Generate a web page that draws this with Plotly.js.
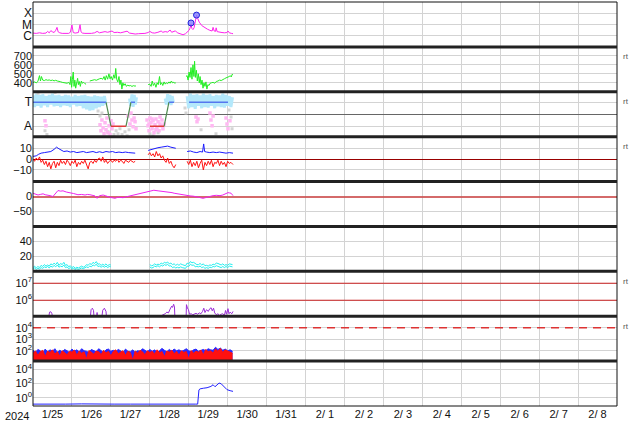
<!DOCTYPE html>
<html><head><meta charset="utf-8">
<script src="https://cdn.plot.ly/plotly-3.0.1.min.js"></script>
<style>html,body{margin:0;padding:0;background:#fff}#chart{width:634px;height:424px}</style>
</head><body><div id="chart"></div>
<script>
// time origin of the data: hours counted from 2024-01-25 00:00 UT
const T0 = Date.UTC(2024, 0, 25);
const xRange = ['2024-01-25', '2024-02-09'];

// Panel 1: X-ray flux [h, W/m2]
const xrs = [[0,1.7e-6],[2,1.6e-6],[4,1.8e-6],[6,1.6e-6],[8,1.7e-6],[9,2.4e-6],[10,1.8e-6],[11,2.8e-6],[12,2.2e-6],[13,1.9e-6],[14,3.0e-6],[14.8,5.5e-6],[15.5,2.2e-6],[16.5,1.8e-6],[18,1.6e-6],[20,1.7e-6],[22,1.6e-6],[23,2.0e-6],[23.5,4.0e-6],[24,9e-6],[24.8,1.9e-6],[26,1.7e-6],[28,1.9e-6],[28.6,5e-6],[29,9.5e-6],[29.6,2.2e-6],[30.5,1.7e-6],[32,1.6e-6],[34,1.5e-6],[36,1.6e-6],[38,1.8e-6],[39.5,2.4e-6],[41,1.8e-6],[43,1.9e-6],[44.4,2.3e-6],[46,2.0e-6],[47.5,2.3e-6],[48.7,2.6e-6],[50,1.9e-6],[52,2.0e-6],[54,1.8e-6],[56,2.1e-6],[58,2.5e-6],[59.5,1.7e-6],[61,1.5e-6],[63,1.4e-6],[65,1.5e-6],[67,1.5e-6],[69,1.6e-6],[71,1.9e-6],[72,2.4e-6],[73.5,1.8e-6],[75,1.7e-6],[77,2.0e-6],[79,2.6e-6],[80,2.0e-6],[81.5,2.3e-6],[83,2.1e-6],[84.5,3.2e-6],[85.5,2.0e-6],[87,2.5e-6],[87.8,2.7e-6],[89,1.8e-6],[91,1.4e-6],[92.5,1.2e-6],[94,1.5e-6],[95.6,2.5e-6],[96.4,3.2e-6],[97,6.0e-6],[97.4,1.1e-5],[97.9,4.5e-6],[98.6,3.5e-6],[99.3,5e-6],[100,2.0e-5],[100.8,6.8e-5],[101.5,3.5e-5],[102.5,1.6e-5],[104,8e-6],[105.5,5.5e-6],[107.5,3.8e-6],[109,3.0e-6],[110.4,2.6e-6],[111,5.5e-6],[111.7,2.6e-6],[112.5,2.4e-6],[112.9,5.0e-6],[113.5,2.3e-6],[115,2.0e-6],[116.5,1.9e-6],[118,1.8e-6],[119.5,1.9e-6],[120.2,2.6e-6],[121,1.8e-6],[122.3,1.6e-6],[123.3,1.5e-6]];
const flares = [[97.4,1.35e-5],[100.8,6.8e-5]];
const xrsTickVals = [1e-4, 1e-5, 1e-6];
const xrsTickText = ['X', 'M', 'C'];

// Panel 2: solar wind speed [h, km/s]
const sw = [[0,405],[1,410],[2,400],[3,415],[4,480],[4.6,420],[5.2,470],[6,430],[7,425],[8,435],[9,428],[10,432],[11,425],[12,430],[13,422],[14,428],[15,420],[16,418],[17,412],[18,405],[19,400],[20,398],[21,395],[22,405],[22.8,380],[23.3,470],[23.8,350],[24.3,440],[24.8,520],[25.3,360],[25.8,430],[26.3,340],[26.8,400],[27.5,450],[28,380],[28.5,415],[29.2,360],[29.8,420],[30.5,395],[31.2,405],[32,390],[32.7,385],[33.5,null],
[35,420],[36,425],[37,430],[38,435],[39,428],[40,440],[41,445],[42,450],[43,440],[43.8,470],[44.5,430],[45.2,480],[46,440],[46.8,500],[47.5,445],[48.2,470],[49,430],[49.8,490],[50.5,450],[51,560],[51.6,440],[52.3,410],[53,470],[53.6,380],[54.2,430],[54.8,330],[55.4,400],[56,370],[56.8,390],[57.6,360],[58.4,375],[59.2,365],[60,370],[61,360],[62,368],[63,362],[63.5,370],[66,null],
[71,380],[72,385],[72.8,360],[73.5,420],[74.2,370],[75,395],[75.8,350],[76.5,400],[77.2,380],[78,470],[78.6,380],[79.3,400],[80,370],[80.8,410],[81.5,385],[82.2,400],[83,390],[83.8,410],[84.5,395],[85.3,420],[86,400],[86.8,405],[87.5,395],[88,400],[91,null],
[94.3,470],[95,480],[95.6,430],[96.2,520],[96.8,460],[97.4,570],[98,440],[98.6,600],[99.2,470],[99.6,640],[100.1,460],[100.7,540],[101.3,420],[101.9,500],[102.5,400],[103,470],[103.6,380],[104.2,430],[104.8,340],[105.4,400],[106,360],[106.6,410],[107.2,330],[107.8,380],[108.5,370],[109.2,395],[110,400],[111,405],[112,395],[113,415],[114,420],[115,430],[116,425],[117,440],[118,445],[119,455],[120,460],[121,470],[121.6,480],[122.2,465],[122.8,495],[123.3,490]];
const swTickVals = [400, 500, 600, 700];

// Panel 3: IMF sector (T = +1, A = -1)
const secT = [[0,1],[45,1],[45.5,null],[60.4,1],[62.9,1],[63,null],[83.8,1],[86.9,1],[87,null],[96.2,1],[120.2,1]];
const secA = [[48.1,-1],[57.3,-1],[58,null],[72.1,-1],[80.8,-1]];
const secTrans = [[45,1],[48.1,-1],[48.5,null],[57.3,-1],[60.4,1],[61,null],[80.8,-1],[83.8,1]];
const angT = [[0,1.55],[1,0.6],[2,1.7],[3,0.7],[4,1.6],[5,0.55],[6,1.65],[7,0.75],[8,1.5],[9,0.6],[10,1.6],[11,0.8],[12,1.7],[13,0.65],[14,1.55],[15,0.7],[16,1.6],[17,0.6],[18,1.5],[19,0.75],[20,1.6],[21,0.7],[22,1.55],[23,0.6],[24,1.45],[25,0.8],[26,1.6],[27,0.65],[28,1.5],[29,0.7],[30,1.55],[31,0.5],[32,1.6],[33,0.4],[34,1.5],[35,0.3],[36,1.45],[37,0.35],[38,1.55],[39,0.5],[40,1.5],[41,0.6],[42,1.45],[43,0.7],[44,1.5],[45,0.8],[46,null],
[59.5,1.3],[60.2,0.7],[61,1.65],[61.7,0.6],[62.4,1.6],[63.1,0.8],[63.8,1.4],[64.5,null],
[81.5,1.3],[82.2,0.8],[83,1.65],[83.7,0.9],[84.4,1.6],[85.1,0.75],[85.8,1.5],[86.5,1.0],[87,null],
[95,1.5],[96,0.5],[97,1.7],[98,0.6],[99,1.6],[100,0.45],[101,1.65],[102,0.7],[103,1.55],[104,0.5],[105,1.7],[106,0.6],[107,1.6],[108,0.55],[109,1.65],[110,0.7],[111,1.5],[112,0.5],[113,1.6],[114,0.65],[115,1.55],[116,0.6],[117,1.7],[118,0.55],[119,1.6],[120,0.7],[121,1.5],[122,0.6],[123,1.4]];
const angA = [[7.4,-0.55],[8,-0.96],[41.3,-0.88],[41.9,-1.37],[42.5,-0.47],[43.2,-1.12],[43.8,-1.61],[44.4,-0.71],[45,-1.29],[45.6,-0.31],[46.2,-1.53],[46.9,-0.96],[47.5,-1.69],[48.1,-0.55],[48.7,-1.2],[49.3,-0.8],[58.6,-0.14],[59.8,-0.8],[60.4,0.1],[61,-0.47],[61.7,-1.04],[62.3,-0.31],[62.9,-0.63],[63.5,-1.2],[70.3,-0.47],[70.9,-0.96],[71.5,-1.37],[72.1,-0.31],[72.7,-0.71],[73.4,-1.2],[74,-0.55],[74.6,-1.53],[75.2,-0.88],[75.8,-0.39],[76.4,-1.12],[77.1,-0.63],[77.7,-1.37],[78.3,-0.22],[78.9,-0.96],[79.5,-0.47],[80.1,-1.2],[80.8,-0.8],[71.5,-0.8],[73.4,-0.39],[75.8,-1.29],[78.3,-0.8],[100.5,-0.22],[101.1,-0.63],[101.7,-0.39],[109.1,0.1],[109.7,-0.47],[110.4,-0.96],[111,-0.14],[119,-0.31],[119.6,-0.8],[120.2,-1.2],[121.4,-0.55]];
const angX = [[7.4,-1.37],[8.6,-1.69],[3.1,1.73],[13.6,1.8],[40.1,0.27],[41.3,-0.14],[42.5,0.1],[46.2,-1.45],[49.9,-1.69],[51.2,-1.37],[52.4,-1.61],[53.6,-1.2],[54.9,-1.69],[56.7,-1.45],[58,-1.78],[59.2,-1.29],[72.1,-1.61],[74,-1.78],[77.1,-1.53],[93.7,0.51],[94.3,0.1],[103.6,-1.29],[112.8,-1.61],[120.8,0.35],[122.1,-0.22],[122.7,-1.2]];
const secTickVals = [1, -1];
const secTickText = ['T', 'A'];

// Panel 4: IMF Bt (blue) and Bz (red) [nT]
const bt = [[0,2.5],[2,3],[3.5,4.5],[5,5.5],[7,6],[9,6.5],[11,7],[13,9],[14.5,11],[16,9.5],[17.5,8],[19,7],[21,7.5],[23,6.5],[25,7],[27,6],[29,6.5],[31,7],[33,6],[35,6.5],[37,7],[39,6],[41,6.8],[43,6],[45,7],[47,6.5],[49,7],[51,6],[53,6.5],[55,6],[57,6.5],[59,6],[61,5.5],[63,5.5],[64,null],
[71,8],[73,9],[75,9.5],[77,10.5],[79,11],[81,11.5],[83,12],[85,11],[87,10.5],[88,10],[89,null],
[95,7],[97,7.5],[99,6.5],[101,6],[103,7],[104.5,6.5],[105.2,14],[105.8,7],[107,6.5],[109,6],[111,6.5],[113,6],[115,6.5],[117,6],[119,5.5],[121,6],[123.3,5.5]];
const bz = [[0,0],[1,-2],[2,1],[3,-1],[4,2],[5,-3],[6,-1],[7,-5],[8,-2],[9,-7],[10,-3],[11,-9],[12,-4],[13,-2],[14,-8],[15,-3],[16,-6],[17,-1],[18,-4],[19,-2],[20,-5],[21,-1],[22,-3],[23,-6],[24,-2],[25,-4],[26,-1],[27,-7],[28,-3],[29,-5],[30,-2],[31,-4],[32,-1],[33,-6],[34,-9],[35,-3],[36,-2],[37,-4],[38,-1],[39,-3],[40,0],[41,1],[42,-2],[43,2],[44,-3],[45,-1],[46,-4],[47,-2],[48,-1],[49,-3],[50,-1],[51,-2],[52,0],[53,-3],[54,-1],[55,-2],[56,-4],[57,-1],[58,-2],[59,-3],[60,-1],[61,-2],[62,-3],[63,-2],[64,null],
[71,4],[72,6],[73,3],[74,5],[75,2],[76,7],[77,3],[78,5],[79,1],[80,3],[81,-1],[82,-3],[83,1],[84,-4],[85,-2],[86,-6],[87,-8],[88,-5],[89,null],
[95,-2],[96,-5],[97,-1],[98,-7],[99,-3],[100,-6],[101,-2],[102,-8],[103,-4],[104,-1],[105,-10],[106,-3],[107,-6],[108,-2],[109,-5],[110,-1],[111,-7],[112,-3],[113,-4],[114,-1],[115,-6],[116,-2],[117,-5],[118,-3],[119,-7],[120,-2],[121,-4],[122,-3],[123.3,-5]];
const imfTickVals = [10, 0, -10];

// Panel 5: Dst [nT]
const dst = [[0,11],[1.5,8],[3.1,5],[4.5,7],[6.2,9],[7.5,6],[9.2,5],[10.5,3],[12.3,0],[13.5,8],[15.4,20],[17,18],[18.5,19],[20.5,15],[22.8,13],[25,10],[27.7,6],[30,7],[32.1,5],[33.5,7],[35.1,6],[37,4],[38.2,2],[39.5,-6],[40.3,0],[41.3,3],[43.2,5],[44.5,3],[45.6,0],[47,-2],[48.7,-4],[50.6,-6],[52.4,-2],[54,-3],[55.5,-4],[57.5,-1],[59.8,2],[61,4],[62.9,8],[64.5,10],[66,11],[67.5,13],[69,16],[70.5,18],[72.1,20],[74.5,21],[77.1,19],[79,18],[81.4,16],[83.5,15],[85.7,13],[87,11],[88.8,9],[90.5,7],[92.5,5],[94.5,3],[96.8,2],[99,1],[101.1,0],[102.5,-3],[104.8,-6],[106,-4],[107.3,-2],[109,0],[111,3],[113,4],[115.3,3],[117,5],[118.4,9],[119.3,12],[120.2,13],[121.2,12],[122.1,11],[123.3,3]];
const dstTickVals = [0, -50];

// Panel 6: two cyan series (hourly), gap between the two stretches
const cyTime = [0,1,2,3,4,5,6,7,8,9,10,11,12,13,14,15,16,17,18,19,20,21,22,23,24,25,26,27,28,29,30,31,32,33,34,35,36,37,38,39,40,41,42,43,44,45,46,47,48,60,
72,73,74,75,76,77,78,79,80,81,82,83,84,85,86,87,88,89,90,91,92,93,94,95,96,97,98,99,100,101,102,103,104,105,106,107,108,109,110,111,112,113,114,115,116,117,118,119,120,121,122,123];
const cyA = [5,7,4.5,6.5,5,8,6.5,9,7,8.5,7,10,8.5,11,9,12,8,10.5,9,12,8,9,6,7.5,5,6.5,4,5.5,4.5,6,7,5.5,6.5,9,8,10.5,9,12,10.5,13,9.5,10,8,9.5,8,10,7.5,9,8.5,null,
9,7.5,8,10,8.5,9.5,9,11,10,12,11,12.5,10,11,9,10,8,9.5,8,10,9,8,7.5,11,10,13,11.5,12,10,9,9,10.5,8.5,10,7.5,8,7,8.5,8,9.5,9,11,10.5,9,8.5,10,8,9,8,10,9.5,9];
const cyB = [3,4.5,2.5,4,3,5,4,6,5,6.5,4.5,7,5.5,8,6,8.5,5.5,7,6,8.5,5,6,3.5,5,3,4,2.5,3.5,2.5,4,4.5,3.5,4.5,6,5,7,6,8.5,7.5,9.5,6.5,7,5.5,7,5.5,7,5,6.5,6,null,
6,4.5,5,7,6,7.5,6,8,7,9,8,9.5,7,7.5,5,6,4.5,5.5,4.5,6,5,4.5,4,7,6.5,9.5,8,8.5,6,6.5,6,7,5,6,4,5,4,5.5,5,6.5,6,7.5,7,6,5,6.5,5,6.5,5,7,6.5,6];
const cyTickVals = [20, 40];

// Panel 7: electron flux (purple), levels 1e6 / 1e7
const elec = [[0,5e4],[9.2,5e4],[10.2,2e5],[11,2.1e5],[11.7,1.6e5],[12.3,5e4],[14.8,5e4],[15.2,1.35e5],[15.6,5e4],[22.8,5e4],[23.4,1.35e5],[24,5e4],[35,5e4],[35.8,2.8e5],[36.6,3.4e5],[37.3,2.5e5],[37.9,5e4],[39,5e4],[39.5,1.9e5],[40,5e4],[42,5e4],[43,2.6e5],[44,3.4e5],[45,2.2e5],[45.6,5e4],[79,5e4],[79.5,1.3e5],[80.5,1.4e5],[81.5,1.6e5],[82.5,2.0e5],[83.5,1.8e5],[84.5,3.0e5],[85.5,4.5e5],[86,3.8e5],[86.7,5.8e5],[87.2,4e5],[87.6,5e4],[94.3,5e4],[94.6,5.5e5],[95.2,3.5e5],[95.8,2.8e5],[96.5,1.5e5],[97.5,1.6e5],[98.5,1.4e5],[99.5,1.5e5],[100.5,1.7e5],[101.5,1.5e5],[102.5,1.8e5],[103.5,1.6e5],[104.5,2.2e5],[105.3,3.4e5],[106,1.9e5],[107,2.8e5],[108,2.2e5],[109,3.2e5],[109.8,3.6e5],[110.5,2.4e5],[111.3,3.4e5],[112,1.8e5],[113,1.4e5],[114,1.6e5],[115,1.3e5],[116,1.5e5],[117,1.6e5],[118,1.3e5],[118.7,2.5e5],[119.3,1.5e5],[120.2,3.2e5],[120.8,1.6e5],[121.5,2.0e5],[122.5,1.6e5],[123.3,2.2e5]];
const elecLevels = [1e6, 1e7];
const elecTickVals = [1e6, 1e7];
const elecTickText = ['10<sup>6</sup>', '10<sup>7</sup>'];

// Panel 8: particle counts, red and blue, dashed level 1e4
const tP8 = [0,1.5,3,4.5,6,7.5,9,10.5,12,13.5,15,16.5,18,19.5,21,22.5,24,25.5,27,28.5,30,31.5,33,34.5,36,37.5,39,40.5,42,43.5,45,46.5,48,49.5,51,52.5,54,55.5,57,58.5,60,61.5,63,64.5,66,67.5,69,70.5,72,73.5,75,76.5,78,79.5,81,82.5,84,85.5,87,88.5,90,91.5,93,94.5,96,97.5,99,100.5,102,103.5,105,106.5,108,109.5,111,112.5,114,115.5,117,118.5,120,121.5,123];
const p8Red = [60,95,40,80,110,30,90,70,120,50,85,35,100,65,45,90,75,115,40,95,60,80,20,105,70,50,95,80,45,110,65,90,35,85,120,55,75,100,40,90,70,15,95,60,110,80,45,100,70,90,50,120,65,85,30,95,75,110,55,90,40,100,70,85,20,105,60,90,75,115,45,130,80,100,60,140,90,160,70,120,95,80,60];
const p8Blue = [110,70,130,100,60,140,80,120,90,150,70,110,80,130,100,70,140,90,120,80,150,100,90,70,130,110,80,150,100,70,120,140,90,110,80,130,100,60,140,90,80,120,70,100,90,150,110,80,130,90,120,70,100,160,110,80,130,90,140,100,120,90,110,150,100,80,120,140,90,110,130,100,150,120,110,200,130,170,110,140,100,120,90];
const p8Floor = 1;   // below the visible range: fills reach the panel bottom
const p8Level = [1e4];
const p8TickVals = [1e2, 1e3, 1e4];
const p8TickText = ['10<sup>2</sup>', '10<sup>3</sup>', '10<sup>4</sup>'];

// Panel 9: blue log series
const p9 = [[0,0.13],[10,0.12],[20,0.13],[30,0.14],[40,0.12],[50,0.13],[60,0.13],[70,0.12],[80,0.13],[90,0.13],[100,0.13],[101.5,0.13],[102.3,13],[103,18],[105,22],[107.3,26],[109.7,40],[111,68],[112.2,36],[113.5,60],[114.7,117],[116,93],[117.8,40],[119.6,14],[121.5,10],[123.3,8]];
const p9TickVals = [1, 1e2, 1e4];
const p9TickText = ['10<sup>0</sup>', '10<sup>2</sup>', '10<sup>4</sup>'];

// side labels
const sideLabels = ['rt', 'rt', 'rt', 'rt', 'rt'];
const sidePanels = [2, 3, 4, 7, 8];

// ---------- build ----------
const toMs = h => T0 + h * 3600000;
const xs = a => a.map(p => toMs(p[0]));
const ys = a => a.map(p => p[1]);
const tStart = Date.parse(xRange[0] + 'T00:00:00Z');
const tEnd = Date.parse(xRange[1] + 'T00:00:00Z');

function line(arr, yax, color, width, extra) {
  return Object.assign({type: 'scatter', mode: 'lines', x: xs(arr), y: ys(arr), yaxis: yax,
    line: {color: color, width: width}, connectgaps: false, hoverinfo: 'skip'}, extra || {});
}
function lineXY(t, v, yax, color, width) {
  return {type: 'scatter', mode: 'lines', x: t.map(toMs), y: v, yaxis: yax,
    line: {color: color, width: width}, connectgaps: false, hoverinfo: 'skip'};
}
function level(v, yax, color, width, dash) {
  return {type: 'scatter', mode: 'lines', x: [tStart, tEnd], y: [v, v], yaxis: yax,
    line: {color: color, width: width, dash: dash || 'solid'}, hoverinfo: 'skip'};
}
function floorTrace(tArr, yax) {
  const t0 = tArr[0], t1 = tArr[tArr.length - 1];
  return {type: 'scatter', mode: 'lines', x: [toMs(t0), toMs(t1)], y: [p8Floor, p8Floor], yaxis: yax,
    line: {color: 'rgba(0,0,0,0)', width: 0}, hoverinfo: 'skip'};
}

const traces = [];
// panel 1
traces.push(line(xrs, 'y', '#ff22ee', 1));
traces.push({type: 'scatter', mode: 'markers', x: xs(flares), y: ys(flares), yaxis: 'y',
  marker: {symbol: 'circle', size: 6, color: 'rgba(120,120,255,0.75)', line: {color: '#2222dd', width: 1}}, hoverinfo: 'skip'});
// panel 2
traces.push(line(sw, 'y2', '#22ee22', 1));
// panel 3
traces.push(line(angT, 'y3', '#b4e8fb', 3));
traces.push({type: 'scatter', mode: 'markers', x: xs(angX), y: ys(angX), yaxis: 'y3',
  marker: {symbol: 'square', size: 3, color: '#d4d4d4'}, hoverinfo: 'skip'});
traces.push({type: 'scatter', mode: 'markers', x: xs(angA), y: ys(angA), yaxis: 'y3',
  marker: {symbol: 'square', size: 3.5, color: '#ffb8f2'}, hoverinfo: 'skip'});
traces.push(line(secTrans, 'y3', '#4f8a4f', 1.2));
traces.push(line(secT, 'y3', '#5577ee', 1.5));
traces.push(line(secA, 'y3', '#e03a3a', 1.5));
// panel 4
traces.push(line(bz, 'y4', '#ff1111', 1));
traces.push(line(bt, 'y4', '#1a1aff', 1));
// panel 5
traces.push(line(dst, 'y5', '#ee22ee', 1));
// panel 6
traces.push(lineXY(cyTime, cyA, 'y6', '#22eeee', 1));
traces.push(lineXY(cyTime, cyB, 'y6', '#22eeee', 1));
// panel 7
elecLevels.forEach(v => traces.push(level(v, 'y7', '#cc2222', 1.2)));
traces.push(line(elec, 'y7', '#9b2fd6', 1));
// panel 8
traces.push(floorTrace(tP8, 'y8'));
traces.push({type: 'scatter', mode: 'lines', x: tP8.map(toMs), y: p8Blue, yaxis: 'y8', fill: 'tonexty',
  fillcolor: '#2a2aff', line: {color: '#2a2aff', width: 1}, hoverinfo: 'skip'});
traces.push(floorTrace(tP8, 'y8'));
traces.push({type: 'scatter', mode: 'lines', x: tP8.map(toMs), y: p8Red, yaxis: 'y8', fill: 'tonexty',
  fillcolor: '#ff1010', line: {color: '#ff1010', width: 1}, hoverinfo: 'skip'});
p8Level.forEach(v => traces.push(level(v, 'y8', '#dd3333', 1.5, '8px,6px')));
// panel 9
traces.push(line(p9, 'y9', '#2222ff', 1));

const tickFont = {family: 'Liberation Sans, Arial, sans-serif', size: 11, color: '#111'};
const letterFont = {family: 'Liberation Sans, Arial, sans-serif', size: 12, color: '#111'};
const gridColor = '#d3d3d3';
function yax(i, opts) {
  const d = [1 - (i + 1) / 9, 1 - i / 9];
  return Object.assign({domain: d, anchor: 'x', showgrid: true, gridcolor: gridColor, gridwidth: 1,
    zeroline: false, showline: false, ticks: '', tickfont: tickFont, fixedrange: true, tickmode: 'array'}, opts);
}

const layout = {
  width: 634, height: 424,
  margin: {l: 33, r: 17, t: 2, b: 18, pad: 0},
  paper_bgcolor: '#fff', plot_bgcolor: '#fff',
  showlegend: false,
  xaxis: {type: 'date', range: xRange, anchor: 'y9', showgrid: true, gridcolor: gridColor,
    dtick: 86400000, tick0: '2024-01-25', tickformat: '%-m/%e', ticklabelmode: 'period',
    ticks: '', tickfont: tickFont, showline: false, zeroline: false, fixedrange: true},
  yaxis: yax(0, {type: 'log', range: [-7, -3], tickvals: xrsTickVals, ticktext: xrsTickText, tickfont: letterFont}),
  yaxis2: yax(1, {range: [300, 800], tickvals: swTickVals}),
  yaxis3: yax(2, {range: [-1.86, 1.86], tickvals: secTickVals, ticktext: secTickText, tickfont: letterFont,
    zeroline: true, zerolinecolor: '#666', zerolinewidth: 1}),
  yaxis4: yax(3, {range: [-20.7, 20.7], tickvals: imfTickVals,
    zeroline: true, zerolinecolor: '#990000', zerolinewidth: 1}),
  yaxis5: yax(4, {range: [-100, 50], tickvals: dstTickVals,
    zeroline: true, zerolinecolor: 'rgba(205,80,80,0.85)', zerolinewidth: 2}),
  yaxis6: yax(5, {range: [0, 60], tickvals: cyTickVals}),
  yaxis7: yax(6, {type: 'log', range: [5.06, 7.7], tickvals: elecTickVals, ticktext: elecTickText}),
  yaxis8: yax(7, {type: 'log', range: [1.1, 5], tickvals: p8TickVals, ticktext: p8TickText}),
  yaxis9: yax(8, {type: 'log', range: [-1.15, 5.15], tickvals: p9TickVals, ticktext: p9TickText}),
  shapes: [],
  annotations: []
};
layout.shapes.push({type: 'rect', xref: 'paper', yref: 'paper', x0: 0, x1: 1, y0: 0, y1: 1,
  line: {color: '#111', width: 1}, layer: 'above'});
for (let k = 1; k < 9; k++) {
  layout.shapes.push({type: 'line', xref: 'paper', yref: 'paper', x0: 0, x1: 1, y0: k / 9, y1: k / 9,
    line: {color: '#222', width: 3}, layer: 'above'});
}
sidePanels.forEach((p, i) => {
  layout.annotations.push({xref: 'paper', yref: 'paper', x: 1.006, y: 1 - (p - 1) / 9 - 0.025,
    xanchor: 'left', yanchor: 'middle', text: sideLabels[i], showarrow: false,
    font: {family: 'Liberation Sans, Arial, sans-serif', size: 8, color: '#555'}});
});
layout.annotations.push({xref: 'paper', yref: 'paper', x: -0.028, y: -0.025, xanchor: 'center', yanchor: 'middle',
  text: '2024', showarrow: false, font: tickFont});

Plotly.newPlot('chart', traces, layout, {staticPlot: true, displayModeBar: false});
</script>
</body></html>
